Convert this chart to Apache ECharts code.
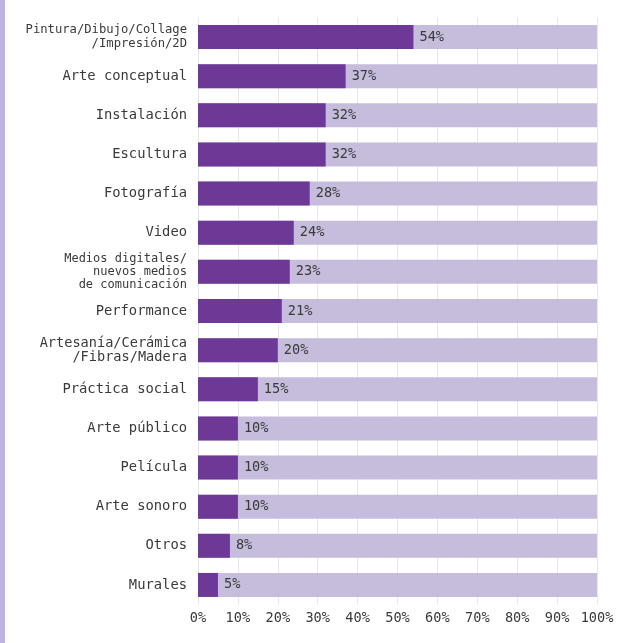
<!DOCTYPE html>
<html><head><meta charset="utf-8">
<script src="https://cdn.jsdelivr.net/npm/echarts@6/dist/echarts.min.js"></script>
<style>html,body{margin:0;padding:0;background:#fff}#c{width:634px;height:643px}</style>
</head><body><div id="c"></div>
<script>
const categories = ["Pintura/Dibujo/Collage\n/Impresión/2D","Arte conceptual","Instalación","Escultura","Fotografía","Video","Medios digitales/\nnuevos medios\nde comunicación","Performance","Artesanía/Cerámica\n/Fibras/Madera","Práctica social","Arte público","Película","Arte sonoro","Otros","Murales"];
const values = [54,37,32,32,28,24,23,21,20,15,10,10,10,8,5];
const xTicks = [0,10,20,30,40,50,60,70,80,90,100];
const font = "'DejaVu Sans Mono', 'Liberation Mono', monospace";
const txt = '#3a3a3a';
const chart = echarts.init(document.getElementById('c'));
chart.setOption({
  animation:false,
  graphic:[{type:'rect',left:0,top:0,shape:{width:5,height:643},style:{fill:'#bdb3dc'}}],
  grid:{left:198,right:37,top:17.5,bottom:38.5,containLabel:false},
  xAxis:{type:'value',min:xTicks[0],max:xTicks[xTicks.length-1],interval:10,
    axisLine:{show:false},axisTick:{show:false},
    splitLine:{show:true,lineStyle:{color:'#e8e8e8',width:1}},
    axisLabel:{formatter:v=>v+'%',fontFamily:font,fontSize:13.6,color:txt,margin:7}},
  yAxis:{type:'category',data:categories,inverse:true,
    axisLine:{show:false},axisTick:{show:false},
    axisLabel:{fontFamily:font,fontSize:13.8,color:txt,margin:11,align:'right',
      formatter:function(v){
        const lines=v.split('\n');
        if(lines.length===3) return lines.map(l=>'{m|'+l+'}').join('\n');
        if(v.indexOf('Pintura')===0) return lines.map(l=>'{p|'+l+'}').join('\n');
        if(lines.length===2) return lines.map(l=>'{a|'+l+'}').join('\n');
        return v;
      },
      rich:{
        m:{fontFamily:font,fontSize:12,lineHeight:13,color:txt},
        p:{fontFamily:font,fontSize:12.2,lineHeight:14,color:txt},
        a:{fontFamily:font,fontSize:13.6,lineHeight:14,color:txt}
      }}},
  series:[{type:'bar',data:values,barWidth:24,
    itemStyle:{color:'#6e3996'},
    showBackground:true,backgroundStyle:{color:'#c6bddc'},
    label:{show:true,position:'right',distance:6,formatter:p=>p.value+'%',fontFamily:font,fontSize:13.6,color:txt}}]
});
</script></body></html>
